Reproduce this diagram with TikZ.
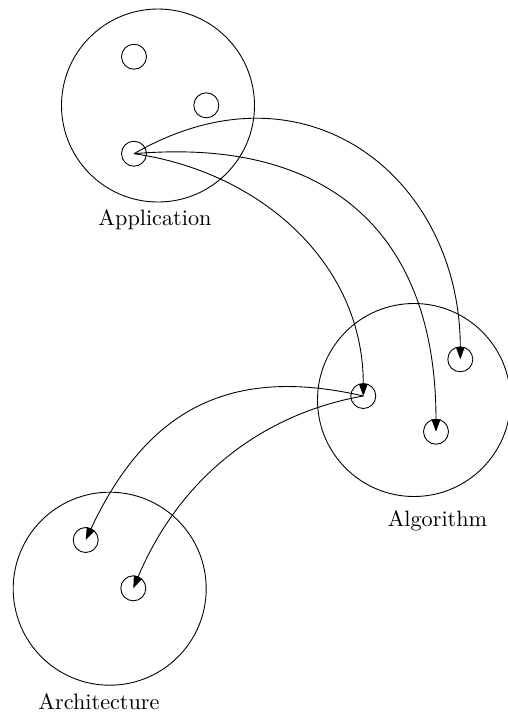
\documentclass[tikz,border=0pt]{standalone}
\usetikzlibrary{arrows.meta}
\begin{document}
\begin{tikzpicture}[x=0.45pt,y=-0.45pt,
  big/.style={circle,draw,minimum size=193*0.45pt,inner sep=0pt},
  small/.style={circle,draw,minimum size=25*0.45pt,inner sep=0pt},
  lbl/.style={font=\normalsize},
  conn/.style={-{Triangle[length=5.5pt,width=3.9pt]}}]
\useasboundingbox (0,0) rectangle (508,715);
% Application
\node[big] (app) at (158,105.5) {};
\node[small] (a1) at (134,56.7) {};
\node[small] (a2) at (206.3,105.3) {};
\node[small] (a3) at (134,153.7) {};
\node[lbl] (appl) at (155,220) {Application};
% Algorithm
\node[big] (alg) at (414,400) {};
\node[small] (g1) at (363.3,396) {};
\node[small] (g2) at (460.3,359.3) {};
\node[small] (g3) at (436,431.7) {};
\node[lbl] (algl) at (437.5,521) {Algorithm};
% Architecture
\node[big] (arc) at (109.7,588.7) {};
\node[small] (r1) at (85.7,540) {};
\node[small] (r2) at (133.3,588.3) {};
\node[lbl] (arcl) at (99,702) {Architecture};
% connectors
\draw[conn] (a3.center) .. controls (307,54) and (460.3,179) .. (g2.center);
\draw[conn] (a3.center) .. controls (333,136.6) and (436,237) .. (g3.center);
\draw[conn] (a3.center) .. controls (259,171.5) and (363.3,262) .. (g1.center);
\draw[conn] (g1.center) .. controls (230.5,365.4) and (147.3,408.6) .. (r1.center);
\draw[conn] (g1.center) .. controls (258.6,414.4) and (178.2,481.2) .. (r2.center);
\end{tikzpicture}
\end{document}
